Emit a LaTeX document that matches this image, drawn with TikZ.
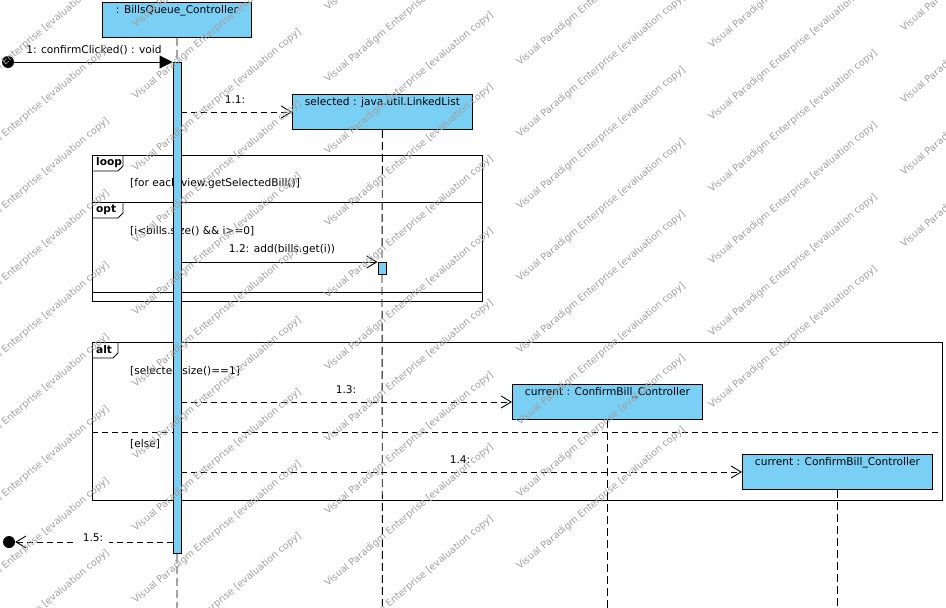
\documentclass[tikz,border=0pt]{standalone}
\usepackage{fontspec}
\setmainfont{DejaVu Sans}
\usetikzlibrary{arrows.meta}
\definecolor{lifeblue}{RGB}{122,207,245}
\definecolor{marks}{RGB}{160,160,160}
\newcommand{\lblfont}{\fontsize{10.6}{12.5}\selectfont}
\tikzset{
  headbox/.style={draw=black, fill=lifeblue, line width=0.9pt, inner sep=0pt, anchor=north west},
  headtext/.style={anchor=north, inner sep=0pt, font=\lblfont},
  actbar/.style={draw=black, fill=lifeblue, line width=0.9pt, inner sep=0pt, minimum width=8pt, anchor=north},
  lifeline/.style={draw=black, line width=0.9pt, dash pattern=on 8pt off 4pt},
  callmsg/.style={draw=black, line width=0.9pt, -{Straight Barb[length=10pt,width=12pt,line width=0.9pt]}},
  createmsg/.style={callmsg, dash pattern=on 6pt off 4pt},
  foundmsg/.style={draw=black, line width=0.9pt, -{Triangle[length=13pt,width=13pt]}},
  endpoint/.style={circle, fill=black, minimum size=12pt, inner sep=0pt},
  msglabel/.style={inner sep=1pt, font=\lblfont},
  guard/.style={anchor=west, inner sep=0pt, font=\lblfont},
  framebox/.style={draw=black, line width=0.9pt, inner sep=0pt, anchor=north west},
  tabtext/.style={anchor=west, inner sep=0pt, font=\bfseries\lblfont},
  stamp/.style={text=marks, rotate=40, anchor=west, inner sep=0pt, font=\fontsize{9.6}{11}\selectfont},
}
\begin{document}
\begin{tikzpicture}[x=1pt,y=-1pt]
\useasboundingbox (0,0) rectangle (946,608);
\fill[white] (0,0) rectangle (946,608);
\coordinate (bottom) at (0,608);

% combined fragments
\node[framebox, minimum width=390pt, minimum height=146pt] (loopf) at (92,155) {};
\draw[line width=0.9pt] ([yshift=-16pt]loopf.north west) -- ++(26,0) -- ++(5,-5) -- ++(0,-11);
\node[tabtext] at ([xshift=4pt,yshift=-8pt]loopf.north west) {loop};
\node[guard] at (130,184) {[for each view.getSelectedBill()]};

\node[framebox, minimum width=390pt, minimum height=90pt] (optf) at (92,202) {};
\draw[line width=0.9pt] ([yshift=-16pt]optf.north west) -- ++(26,0) -- ++(5,-5) -- ++(0,-11);
\node[tabtext] at ([xshift=4pt,yshift=-8pt]optf.north west) {opt};
\node[guard] at (130,231) {[i<bills.size() \&\& i>=0]};

\node[framebox, minimum width=850pt, minimum height=158pt] (altf) at (92,342) {};
\draw[line width=0.9pt] ([yshift=-16pt]altf.north west) -- ++(21,0) -- ++(5,-5) -- ++(0,-11);
\node[tabtext] at ([xshift=4pt,yshift=-8pt]altf.north west) {alt};
\coordinate (altsep) at (0,432);
\draw[line width=0.9pt, dash pattern=on 6pt off 4pt] (altf.west |- altsep) -- (altf.east |- altsep);
\node[guard] at (130,371) {[selected.size()==1]};
\node[guard] at (130,444) {[else]};

% lifeline heads
\node[headbox, minimum width=149pt, minimum height=35pt] (ctl) at (102,2) {};
\node[headtext] at ([yshift=-3pt]ctl.north) {: BillsQueue\_Controller};
\node[headbox, minimum width=180pt, minimum height=35pt] (sel) at (292,94) {};
\node[headtext] at ([yshift=-3pt]sel.north) {selected : java.util.LinkedList};
\node[headbox, minimum width=190pt, minimum height=35pt] (cura) at (512,384) {};
\node[headtext] at ([yshift=-3pt]cura.north) {current : ConfirmBill\_Controller};
\node[headbox, minimum width=190pt, minimum height=35pt] (curb) at (742,454) {};
\node[headtext] at ([yshift=-3pt]curb.north) {current : ConfirmBill\_Controller};

% activation bars
\node[actbar, minimum height=491pt] (bar) at (177,62) {};
\node[actbar, minimum height=12pt] (act) at (382,262) {};

% lifelines
\draw[lifeline] (ctl.south) -- (bar.north);
\draw[lifeline] (bar.south) -- (ctl.south |- bottom);
\draw[lifeline] (sel.south) -- (act.north);
\draw[lifeline] (act.south) -- (sel.south |- bottom);
\draw[lifeline] (cura.south) -- (cura.south |- bottom);
\draw[lifeline] (curb.south) -- (curb.south |- bottom);

% messages
\node[endpoint] (src) at (8,62) {};
\draw[foundmsg] (src.center) -- (bar.north west);
\node[msglabel] at (94,50) {1: confirmClicked() : void};

\draw[createmsg] (bar.east |- sel.west) -- (sel.west);
\node[msglabel] at (235,100) {1.1:};

\draw[callmsg] (bar.east |- act.north) -- (act.north west);
\node[msglabel] at (282,250) {1.2: add(bills.get(i))};

\draw[createmsg] (bar.east |- cura.west) -- (cura.west);
\node[msglabel] at (346,390) {1.3:};

\draw[createmsg] (bar.east |- curb.west) -- (curb.west);
\node[msglabel] at (460,460) {1.4:};

\node[endpoint] (sink) at (9,542) {};
\coordinate (retpt) at (0,542);
\draw[createmsg] (bar.west |- retpt) -- (sink.east);
\node[msglabel, fill=white, inner xsep=6pt] at (93,538) {1.5:};

% evaluation stamp pattern
\begin{scope}
\clip (0,0) rectangle (946,608);
\foreach \j in {-1,...,16} {
  \foreach \k in {0,...,6} {
    \pgfmathsetmacro{\sx}{-250 + 192*\k}
    \pgfmathsetmacro{\sy}{60 + 72*\j - 161*\k}
    \ifdim\sy pt>-60pt\relax\ifdim\sy pt<700pt\relax
      \node[stamp] at (\sx,\sy) {Visual Paradigm Enterprise [evaluation copy]};
    \fi\fi
  }
}
\end{scope}
\end{tikzpicture}
\end{document}
